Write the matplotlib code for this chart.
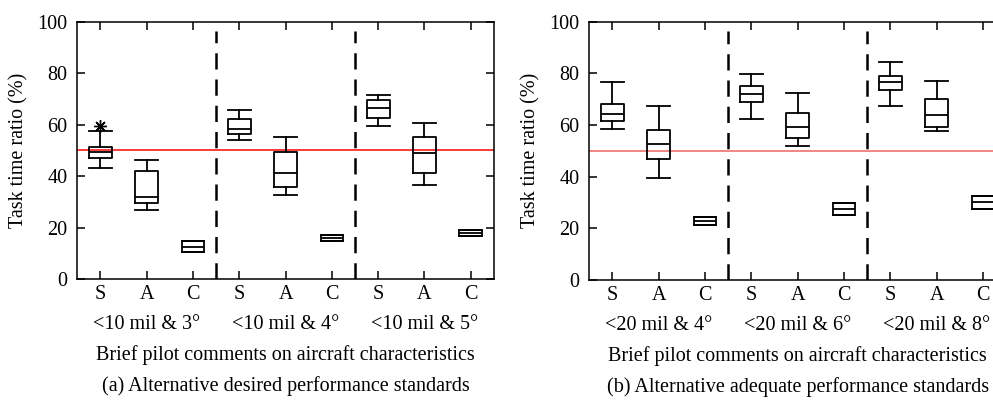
import matplotlib
matplotlib.use("Agg")
from matplotlib import pyplot as plt
import matplotlib.transforms as mtransforms

plt.rcParams["font.family"] = ["Liberation Serif", "DejaVu Serif"]
plt.rcParams["mathtext.fontset"] = "stix"

# Columns: S, A, C for each of the three tolerance groups.
tick_labels = ["S", "A", "C"] * 3

# (a) desired performance standards
desired_groups = ["<10 mil & 3°", "<10 mil & 4°", "<10 mil & 5°"]
desired_whislo = [43.2, 27.0, 10.6, 54.1, 32.6, 14.9, 59.6, 36.6, 16.9]
desired_q1 = [47.1, 29.6, 10.6, 56.4, 35.7, 14.9, 62.7, 41.4, 16.9]
desired_med = [49.5, 32.1, 12.7, 58.5, 41.3, 16.0, 66.6, 48.9, 18.1]
desired_q3 = [51.4, 41.9, 14.7, 62.1, 49.4, 17.2, 69.5, 55.4, 19.0]
desired_whishi = [57.6, 46.4, 14.7, 65.7, 55.1, 17.2, 71.7, 60.8, 19.0]
desired_fliers = [[59.5], [], [], [], [], [], [], [], []]

# (b) adequate performance standards
adequate_groups = ["<20 mil & 4°", "<20 mil & 6°", "<20 mil & 8°"]
adequate_whislo = [58.6, 39.6, 21.4, 62.5, 51.9, 25.0, 67.4, 57.7, 27.5]
adequate_q1 = [61.7, 46.7, 21.4, 68.8, 54.8, 25.0, 73.4, 59.4, 27.5]
adequate_med = [64.4, 52.8, 23.0, 71.9, 59.4, 27.5, 76.5, 63.8, 30.1]
adequate_q3 = [68.0, 57.9, 24.5, 75.0, 64.7, 29.8, 79.1, 70.0, 32.4]
adequate_whishi = [76.7, 67.4, 24.5, 79.8, 72.4, 29.8, 84.3, 76.9, 32.4]
adequate_fliers = [[], [], [], [], [], [], [], [], []]

reference_level = 50
dividers = [3.5, 6.5]
xlabel = "Brief pilot comments on aircraft characteristics"
ylabel = "Task time ratio (%)"

FS = 14.5


def draw_panel(ax, groups, whislo, q1, med, q3, whishi, fliers, ref_color, caption):
    stats = []
    for i in range(len(med)):
        stats.append(
            dict(whislo=whislo[i], q1=q1[i], med=med[i], q3=q3[i],
                 whishi=whishi[i], fliers=fliers[i])
        )
    positions = list(range(1, len(stats) + 1))
    line = dict(color="black", linewidth=1.3)
    ax.bxp(
        stats,
        positions=positions,
        widths=0.49,
        capwidths=0.49,
        boxprops=line,
        whiskerprops=line,
        capprops=line,
        medianprops=line,
        flierprops=dict(marker=(8, 2, 0), markersize=9, markeredgecolor="black",
                        markeredgewidth=1.0, linestyle="none"),
        manage_ticks=False,
    )

    ax.axhline(reference_level, color=ref_color, linewidth=1.2, zorder=1)
    for x in dividers:
        ax.axvline(x, ymin=0, ymax=0.965, color="black", linewidth=1.8,
                   linestyle=(0, (6.5, 4)))

    ax.set_xlim(0.5, 9.5)
    ax.set_ylim(0, 100)
    ax.set_xticks(positions)
    ax.set_xticklabels(tick_labels)
    ax.set_yticks(range(0, 101, 20))
    ax.tick_params(direction="in", top=True, right=True, length=6, width=1.1,
                   labelsize=FS)
    ax.tick_params(axis="x", pad=4)
    ax.tick_params(axis="y", pad=7)
    for spine in ax.spines.values():
        spine.set_linewidth(1.1)

    ax.set_ylabel(ylabel, fontsize=FS)
    ax.yaxis.set_label_coords(-0.118, 0.5)

    trans = mtransforms.blended_transform_factory(ax.transData, ax.transAxes)
    for x, g in zip([2, 5, 8], groups):
        ax.text(x, -0.175, g, transform=trans, ha="center", va="center", fontsize=FS)
    ax.text(0.5, -0.295, xlabel, transform=ax.transAxes, ha="center",
            va="center", fontsize=FS)
    ax.text(0.5, -0.413, caption, transform=ax.transAxes, ha="center",
            va="center", fontsize=FS)


fig = plt.figure(figsize=(9.93, 4.01), dpi=100)
ax_a = fig.add_axes([0.0778, 0.3035, 0.4196, 0.6424])
ax_b = fig.add_axes([0.5935, 0.3017, 0.4197, 0.6442])

draw_panel(ax_a, desired_groups, desired_whislo, desired_q1, desired_med,
           desired_q3, desired_whishi, desired_fliers, "#ff1a1a",
           "(a) Alternative desired performance standards")
draw_panel(ax_b, adequate_groups, adequate_whislo, adequate_q1, adequate_med,
           adequate_q3, adequate_whishi, adequate_fliers, "#f07070",
           "(b) Alternative adequate performance standards")

fig.savefig("out.png", dpi=100)
